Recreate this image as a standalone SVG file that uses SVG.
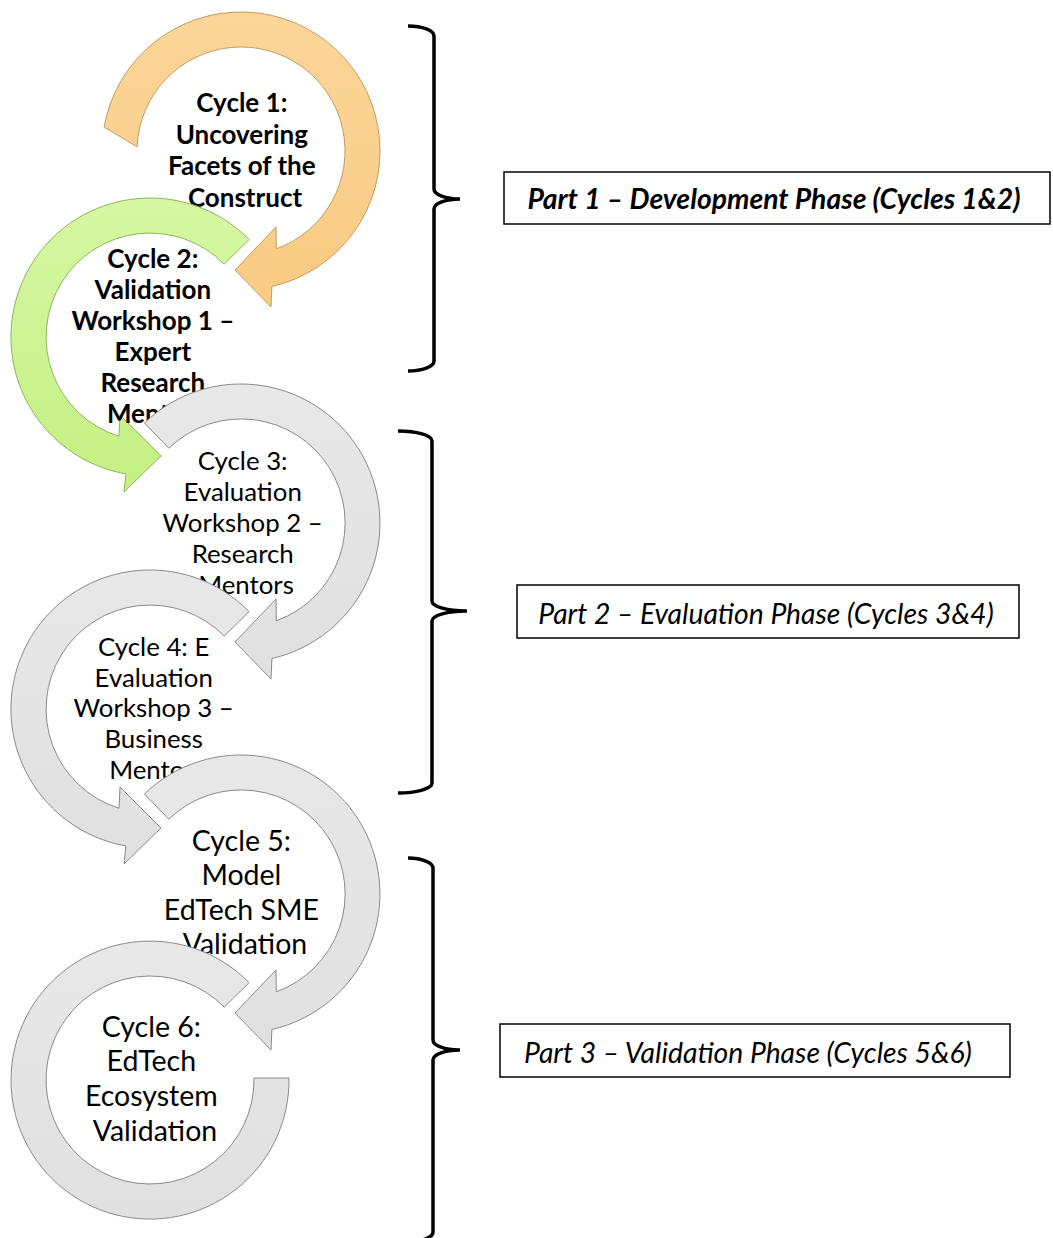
<svg xmlns="http://www.w3.org/2000/svg" width="1053" height="1238" viewBox="0 0 1053 1238">
  <defs>
    <linearGradient id="gOrange" x1="0" y1="0" x2="0" y2="1">
      <stop offset="0" stop-color="#FBD699"/>
      <stop offset="1" stop-color="#F9CA82"/>
    </linearGradient>
    <linearGradient id="gGreen" x1="0" y1="0" x2="0" y2="1">
      <stop offset="0" stop-color="#D6F7A3"/>
      <stop offset="1" stop-color="#C4F083"/>
    </linearGradient>
    <linearGradient id="gGray" x1="0" y1="0" x2="0" y2="1">
      <stop offset="0" stop-color="#E8E8E8"/>
      <stop offset="1" stop-color="#E0E0E0"/>
    </linearGradient>
    <!-- clockwise arc starting upper-left, arrowhead at the bottom pointing left -->
    <path id="arcRight" d="M -96.6,-100 A 139 139 0 1 1 30.9,135.5 L 30,156 L -6,119 L 35,76 L 35.3,97.8 A 104 104 0 1 0 -72.2,-74.8 Z"/>
    <!-- counter-clockwise arc starting upper-right, arrowhead at the bottom pointing right -->
    <path id="arcLeft" d="M 99.1,-97.4 A 139 139 0 1 0 -24.1,136.9 L -26,155 L 11,119 L -30,78 L -31,99.3 A 104 104 0 1 1 74.2,-72.9 Z"/>
  </defs>
  <style>
    .orange { fill: url(#gOrange); stroke: #BF9D63; stroke-width: 1; }
    .green  { fill: url(#gGreen);  stroke: #8DB65A; stroke-width: 1; }
    .gray   { fill: url(#gGray);   stroke: #8A8A8A; stroke-width: 1; }
    .lbl    { font-family: Lato, "Noto Sans", sans-serif; fill: #000; text-anchor: middle; }
    .bold   { font-weight: bold; font-size: 26px; }
    .reg    { font-size: 25.8px; }
    .big    { font-size: 28.5px; }
    .brace  { fill: none; stroke: #000; stroke-width: 3.5; stroke-linecap: butt; }
    .box    { fill: #fff; stroke: #000; stroke-width: 1.5; }
    .part   { font-family: Lato, "Noto Sans", sans-serif; font-style: italic; font-size: 28.3px; fill: #000; text-anchor: middle; }
  </style>

  <rect width="1053" height="1238" fill="#fff"/>

  <!-- Cycle 1 -->
  <g id="cycle1">
    <path class="orange" transform="translate(241,151)" d="M -136.9,-23.9 A 139 139 0 1 1 30.9,135.5 L 30,156 L -6,119 L 35,76 L 35.3,97.8 A 104 104 0 1 0 -103.9,-4.2 Z"/>
    <text class="lbl bold">
      <tspan x="245" y="112">Cycle 1:</tspan>
      <tspan x="245" y="144">Uncovering</tspan>
      <tspan x="245" y="175">Facets of the</tspan>
      <tspan x="245" y="207">Construct</tspan>
    </text>
  </g>

  <!-- Cycle 2 -->
  <g id="cycle2">
    <use href="#arcLeft" class="green" transform="translate(150,337)"/>
    <text class="lbl bold">
      <tspan x="156" y="268">Cycle 2:</tspan>
      <tspan x="156" y="299">Validation</tspan>
      <tspan x="156" y="330">Workshop 1 –</tspan>
      <tspan x="156" y="361">Expert</tspan>
      <tspan x="156" y="392">Research</tspan>
      <tspan x="156" y="423">Mentors</tspan>
    </text>
  </g>

  <!-- Cycle 3 -->
  <g id="cycle3">
    <use href="#arcRight" class="gray" transform="translate(241,523)"/>
    <text class="lbl reg">
      <tspan x="246" y="470">Cycle 3:</tspan>
      <tspan x="246" y="501">Evaluation</tspan>
      <tspan x="246" y="532">Workshop 2 –</tspan>
      <tspan x="246" y="563">Research</tspan>
      <tspan x="246" y="594">Mentors</tspan>
    </text>
  </g>

  <!-- Cycle 4 -->
  <g id="cycle4">
    <use href="#arcLeft" class="gray" transform="translate(150,709)"/>
    <text class="lbl reg">
      <tspan x="157" y="656">Cycle 4: E</tspan>
      <tspan x="157" y="687">Evaluation</tspan>
      <tspan x="157" y="717">Workshop 3 –</tspan>
      <tspan x="157" y="748">Business</tspan>
      <tspan x="157" y="779">Mentors</tspan>
    </text>
  </g>

  <!-- Cycle 5 -->
  <g id="cycle5">
    <use href="#arcRight" class="gray" transform="translate(241,894)"/>
    <text class="lbl big">
      <tspan x="245" y="851">Cycle 5:</tspan>
      <tspan x="245" y="885">Model</tspan>
      <tspan x="245" y="920">EdTech SME</tspan>
      <tspan x="245" y="954">Validation</tspan>
    </text>
  </g>

  <!-- Cycle 6: open ring without arrowhead -->
  <g id="cycle6">
    <path class="gray" transform="translate(150,1080)" d="M 99.1,-97.4 A 139 139 0 1 0 139,-2 L 104,-2 A 104 104 0 1 1 74.2,-72.9 Z"/>
    <text class="lbl big">
      <tspan x="155" y="1037">Cycle 6:</tspan>
      <tspan x="155" y="1071">EdTech</tspan>
      <tspan x="155" y="1106">Ecosystem</tspan>
      <tspan x="155" y="1141">Validation</tspan>
    </text>
  </g>

  <!-- Braces grouping the cycles into phases -->
  <g id="connectors">
    <path class="brace" d="M 408,26 A 26,10 0 0 1 434,36 L 434,189 A 26,10 0 0 0 460,199 A 26,10 0 0 0 434,209 L 434,361 A 26,10 0 0 1 408,371"/>
    <path class="brace" d="M 398,431 A 34,10 0 0 1 432,441 L 432,601 A 34,10 0 0 0 467,611 A 34,10 0 0 0 432,621 L 432,783 A 34,10 0 0 1 398,793"/>
    <path class="brace" d="M 408,858 A 26,10 0 0 1 433,868 L 433,1040 A 26,10 0 0 0 460,1050 A 26,10 0 0 0 433,1060 L 433,1232 A 26,10 0 0 1 408,1242"/>
  </g>

  <!-- Phase labels -->
  <g id="part1">
    <rect class="box" x="504" y="172" width="546" height="52"/>
    <text class="part" x="774" y="209" font-weight="bold" font-size="29.5">Part 1 – Development Phase (Cycles 1&amp;2)</text>
  </g>
  <g id="part2">
    <rect class="box" x="517" y="585" width="502" height="53"/>
    <text class="part" x="766" y="624">Part 2 – Evaluation Phase (Cycles 3&amp;4)</text>
  </g>
  <g id="part3">
    <rect class="box" x="500" y="1024" width="510" height="53"/>
    <text class="part" x="748" y="1063">Part 3 – Validation Phase (Cycles 5&amp;6)</text>
  </g>
</svg>
